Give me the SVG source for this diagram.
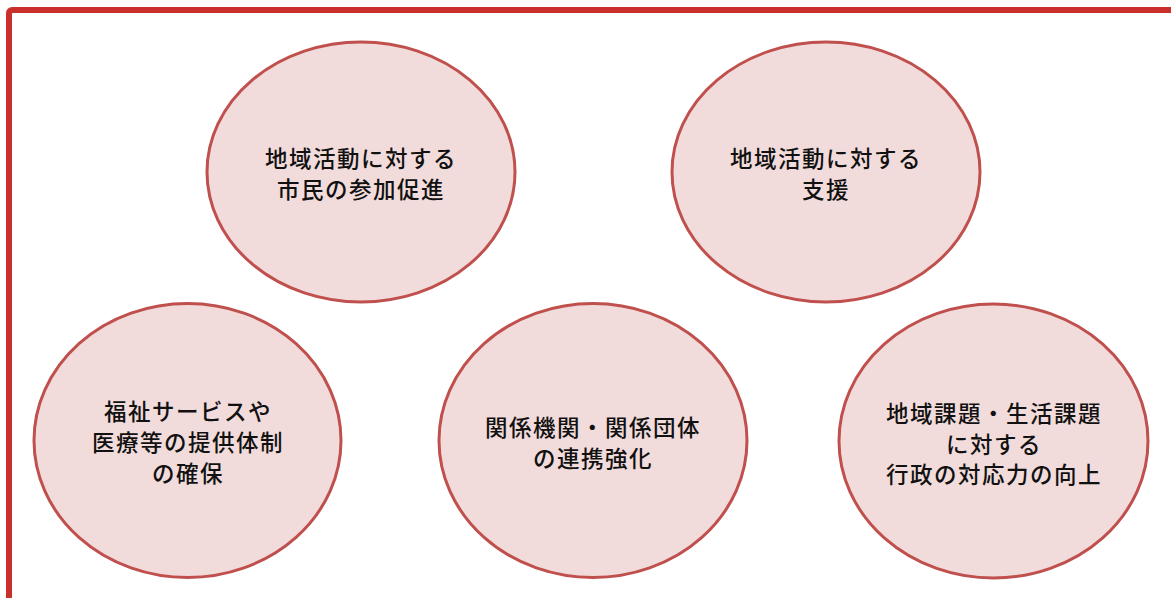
<svg xmlns="http://www.w3.org/2000/svg" width="1171" height="598" viewBox="0 0 1171 598">
<style>
.n ellipse{fill:#f2dcdb;stroke:#c0504d;stroke-width:3}
.n text{font-family:"Noto Sans CJK JP","Noto Sans",sans-serif;font-size:22.5px;font-weight:500;fill:#111;text-anchor:middle;dominant-baseline:central;letter-spacing:1.5px}
</style>
<rect width="1171" height="598" fill="#fff"/>
<rect x="9" y="10" width="1200" height="640" rx="3" fill="none" stroke="#c9302c" stroke-width="6"/>
<g id="node1" class="n">
<ellipse cx="361" cy="172" rx="154" ry="130"/>
<text x="361" y="157">地域活動に対する</text>
<text x="361" y="188">市民の参加促進</text>
</g>
<g id="node2" class="n">
<ellipse cx="826" cy="172" rx="154" ry="130"/>
<text x="826" y="157">地域活動に対する</text>
<text x="826" y="188">支援</text>
</g>
<g id="node3" class="n">
<ellipse cx="187.5" cy="440.5" rx="153.5" ry="137"/>
<text x="188" y="410">福祉サービスや</text>
<text x="188" y="441">医療等の提供体制</text>
<text x="188" y="472">の確保</text>
</g>
<g id="node4" class="n">
<ellipse cx="593" cy="440.5" rx="154" ry="137"/>
<text x="593" y="426">関係機関・関係団体</text>
<text x="593" y="457">の連携強化</text>
</g>
<g id="node5" class="n">
<ellipse cx="993.5" cy="441" rx="154.5" ry="137"/>
<text x="994" y="412">地域課題・生活課題</text>
<text x="994" y="443">に対する</text>
<text x="994" y="473">行政の対応力の向上</text>
</g>
<g id="connectors"></g>
</svg>
